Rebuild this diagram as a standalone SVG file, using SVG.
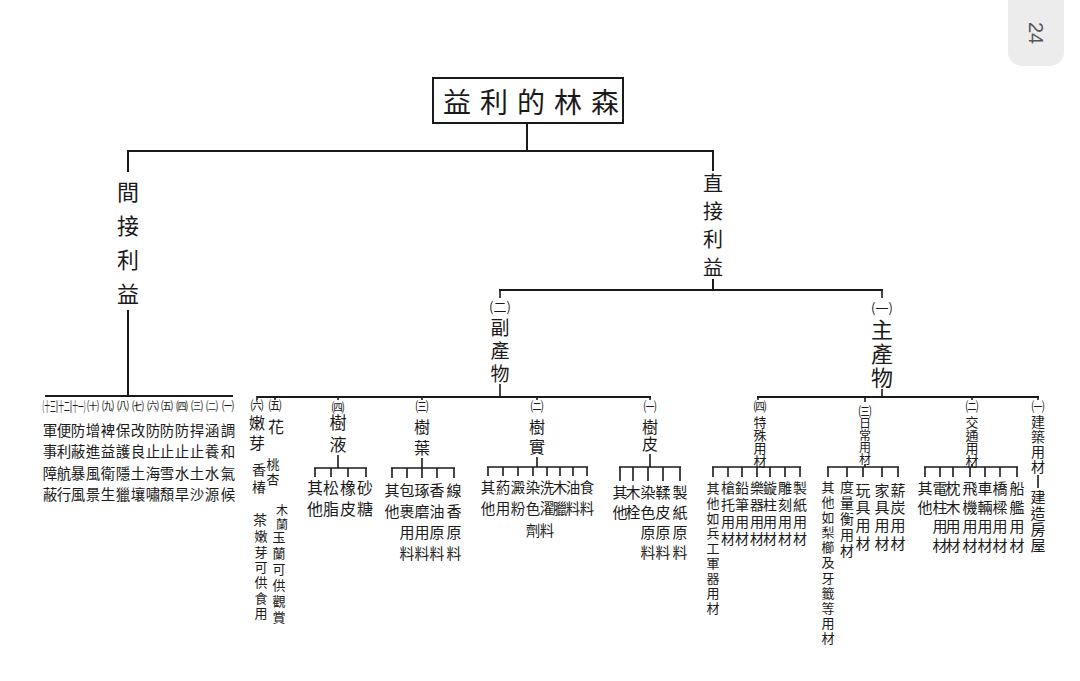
<svg xmlns="http://www.w3.org/2000/svg" width="1080" height="681" viewBox="0 0 1080 681">
<style>
.t{font-family:"Noto Sans CJK TC","Noto Sans CJK SC",sans-serif;fill:#1a1a1a}
.v{writing-mode:vertical-rl;text-orientation:upright}
.n{font-size:13px;text-anchor:middle;dominant-baseline:central}
.nl{font-size:12px}
.c line{stroke:#1a1a1a;stroke-width:1.6}
.c .m{stroke-width:2}
</style>
<rect width="1080" height="681" fill="#ffffff"/>
<g id="pagenum">
<rect x="1008" y="-14" width="56" height="80" rx="14" fill="#ececec"/>
<text x="1036" y="33" transform="rotate(90 1036 33)" font-family="Liberation Sans,sans-serif" font-size="20" fill="#555" text-anchor="middle" dominant-baseline="central">24</text>
</g>
<g id="connectors" class="c">
<line class="m" x1="527" y1="123" x2="527" y2="151"/>
<line class="m" x1="127" y1="151" x2="714" y2="151"/>
<line class="m" x1="128" y1="150" x2="128" y2="172"/>
<line class="m" x1="128" y1="310" x2="128" y2="397"/>
<line class="m" x1="713" y1="150" x2="713" y2="171"/>
<line class="m" x1="713" y1="279" x2="713" y2="291"/>
<line class="m" x1="499" y1="290" x2="883" y2="290"/>
<line x1="500" y1="289" x2="500" y2="298"/>
<line x1="500" y1="384" x2="500" y2="397"/>
<line x1="882" y1="289" x2="882" y2="298"/>
<line x1="882" y1="389" x2="882" y2="397"/>
<line class="m" x1="45" y1="396" x2="233" y2="396"/>
<line class="m" x1="257" y1="397" x2="651" y2="397"/>
<line class="m" x1="757" y1="397" x2="1039" y2="397"/>
<line x1="257" y1="396" x2="257" y2="400"/><line x1="275" y1="396" x2="275" y2="400"/><line x1="338" y1="396" x2="338" y2="400"/><line x1="422" y1="396" x2="422" y2="400"/><line x1="537" y1="396" x2="537" y2="400"/><line x1="650" y1="396" x2="650" y2="400"/>
<line x1="758" y1="396" x2="758" y2="400"/><line x1="865" y1="396" x2="865" y2="402"/><line x1="972" y1="396" x2="972" y2="400"/><line x1="1038" y1="396" x2="1038" y2="400"/>
<line x1="338" y1="455" x2="338" y2="468"/>
<line x1="314" y1="468" x2="367" y2="468"/>
<line x1="315" y1="468" x2="315" y2="477"/><line x1="331" y1="468" x2="331" y2="477"/><line x1="348" y1="468" x2="348" y2="477"/><line x1="366" y1="468" x2="366" y2="477"/>
<line x1="422" y1="458" x2="422" y2="468"/>
<line x1="391" y1="468" x2="455" y2="468"/>
<line x1="392" y1="468" x2="392" y2="478"/><line x1="407" y1="468" x2="407" y2="478"/><line x1="422" y1="468" x2="422" y2="478"/><line x1="437" y1="468" x2="437" y2="478"/><line x1="454" y1="468" x2="454" y2="478"/>
<line x1="537" y1="457" x2="537" y2="467"/>
<line x1="487" y1="467" x2="588" y2="467"/>
<line x1="488" y1="467" x2="488" y2="476"/><line x1="503" y1="467" x2="503" y2="476"/><line x1="518" y1="467" x2="518" y2="476"/><line x1="533" y1="467" x2="533" y2="476"/><line x1="547" y1="467" x2="547" y2="476"/><line x1="560" y1="467" x2="560" y2="476"/><line x1="573" y1="467" x2="573" y2="476"/><line x1="587" y1="467" x2="587" y2="476"/>
<line x1="650" y1="454" x2="650" y2="467"/>
<line x1="619" y1="467" x2="681" y2="467"/>
<line x1="620" y1="467" x2="620" y2="481"/><line x1="633" y1="467" x2="633" y2="481"/><line x1="648" y1="467" x2="648" y2="481"/><line x1="663" y1="467" x2="663" y2="481"/><line x1="680" y1="467" x2="680" y2="481"/>
<line x1="760" y1="466" x2="760" y2="467"/>
<line x1="712" y1="467" x2="801" y2="467"/>
<line x1="713" y1="467" x2="713" y2="477"/><line x1="728" y1="467" x2="728" y2="477"/><line x1="742" y1="467" x2="742" y2="477"/><line x1="757" y1="467" x2="757" y2="477"/><line x1="770" y1="467" x2="770" y2="477"/><line x1="785" y1="467" x2="785" y2="477"/><line x1="800" y1="467" x2="800" y2="477"/>
<line x1="865" y1="464" x2="865" y2="467"/>
<line x1="827" y1="467" x2="899" y2="467"/>
<line x1="828" y1="467" x2="828" y2="477"/><line x1="847" y1="467" x2="847" y2="477"/><line x1="863" y1="467" x2="863" y2="477"/><line x1="882" y1="467" x2="882" y2="477"/><line x1="898" y1="467" x2="898" y2="477"/>
<line x1="972" y1="464" x2="972" y2="467"/>
<line x1="924" y1="467" x2="1018" y2="467"/>
<line x1="925" y1="467" x2="925" y2="477"/><line x1="940" y1="467" x2="940" y2="477"/><line x1="953" y1="467" x2="953" y2="477"/><line x1="970" y1="467" x2="970" y2="477"/><line x1="985" y1="467" x2="985" y2="477"/><line x1="1000" y1="467" x2="1000" y2="477"/><line x1="1017" y1="467" x2="1017" y2="477"/>
<line x1="1038" y1="475" x2="1038" y2="488"/>
</g>
<g id="title">
<rect x="433" y="78" width="190" height="45" fill="none" stroke="#1a1a1a" stroke-width="2"/>
<text class="t" x="443" y="101" font-size="28" letter-spacing="9" dominant-baseline="central">益利的林森</text>
</g>
<g id="indirect">
<text class="t v" x="128" y="181" font-size="22" letter-spacing="12">間接利益</text>
</g>
<g id="direct">
<text class="t v" x="713" y="173" font-size="20" letter-spacing="8">直接利益</text>
</g>
<g id="indirect-items" class="t">
<text class="n nl" x="228" y="405">㈠</text><text class="n nl" x="212" y="405">㈡</text><text class="n nl" x="197" y="405">㈢</text><text class="n nl" x="182" y="405">㈣</text><text class="n nl" x="167" y="405">㈤</text><text class="n nl" x="153" y="405">㈥</text><text class="n nl" x="138" y="405">㈦</text><text class="n nl" x="123" y="405">㈧</text><text class="n nl" x="108" y="405">㈨</text><text class="n nl" x="93" y="405">㈩</text>
<text class="n" font-size="10" transform="translate(78 405) scale(0.44 1)">(十一)</text>
<text class="n" font-size="10" transform="translate(64 405) scale(0.44 1)">(十二)</text>
<text class="n" font-size="10" transform="translate(50 405) scale(0.44 1)">(十三)</text>
<g font-size="14.5" letter-spacing="7">
<text class="v" x="228" y="423">調和氣候</text>
<text class="v" x="212" y="423">涵養水源</text>
<text class="v" x="197" y="423">捍止土沙</text>
<text class="v" x="182" y="423">防止水旱</text>
<text class="v" x="167" y="423">防止雪頽</text>
<text class="v" x="153" y="423">防止海嘯</text>
<text class="v" x="138" y="423">改良土壤</text>
<text class="v" x="123" y="423">保護隱獵</text>
<text class="v" x="108" y="423">裨益衛生</text>
<text class="v" x="93" y="423">增進風景</text>
<text class="v" x="78" y="423">防蔽暴風</text>
<text class="v" x="64" y="423">便利航行</text>
<text class="v" x="50" y="423">軍事障蔽</text>
</g>
</g>
<g id="byproduct" class="t">
<text class="n" x="500" y="306">(二)</text>
<text class="v" x="500" y="318" font-size="19" letter-spacing="4">副產物</text>
</g>
<g id="mainproduct" class="t">
<text class="n" x="882" y="307">(一)</text>
<text class="v" x="882" y="319" font-size="22" letter-spacing="2">主產物</text>
</g>
<g id="sprout" class="t">
<text class="n" x="257" y="404">㈥</text>
<text class="v" x="257" y="415" font-size="16" letter-spacing="4">嫩芽</text>
<text class="v" x="259" y="463" font-size="14" letter-spacing="3">香椿</text>
<text class="v" x="260" y="513" font-size="14">茶</text>
<text class="v" x="261" y="530" font-size="13" letter-spacing="2.3">嫩芽可供食用</text>
</g>
<g id="flower" class="t">
<text class="n" x="275" y="404">㈤</text>
<text class="v" x="276" y="419" font-size="16">花</text>
<text class="v" x="273" y="458" font-size="13" letter-spacing="2">桃杏</text>
<text class="v" x="282" y="504" font-size="12" letter-spacing="2">木蘭</text>
<text class="v" x="279" y="531" font-size="13" letter-spacing="3">玉蘭可供觀賞</text>
</g>
<g id="sap" class="t">
<text class="n" x="338" y="406">㈣</text>
<text class="v" x="338" y="414" font-size="17" letter-spacing="5">樹液</text>
<g font-size="16" letter-spacing="5">
<text class="v" x="315" y="480">其他</text>
<text class="v" x="331" y="480">松脂</text>
<text class="v" x="348" y="480">橡皮</text>
<text class="v" x="365" y="480">砂糖</text>
</g>
</g>
<g id="leaf" class="t">
<text class="n" x="422" y="405">㈢</text>
<text class="v" x="422" y="419" font-size="16" letter-spacing="5">樹葉</text>
<g font-size="15" letter-spacing="6">
<text class="v" x="392" y="482.5">其他</text>
<text class="v" x="407" y="482.5">包裹用料</text>
<text class="v" x="422" y="482.5">琢磨用料</text>
<text class="v" x="437" y="482.5">香油原料</text>
<text class="v" x="454" y="482.5">線香原料</text>
</g>
</g>
<g id="fruit" class="t">
<text class="n" x="537" y="405">㈡</text>
<text class="v" x="537" y="419" font-size="16" letter-spacing="4">樹實</text>
<g font-size="14.5" letter-spacing="7">
<text class="v" x="488" y="480">其他</text>
<text class="v" x="503" y="480">葯用</text>
<text class="v" x="518" y="480">澱粉</text>
<text class="v" x="533" y="480">染色劑</text>
<text class="v" x="547" y="480">洗濯料</text>
<text class="v" x="560" y="480">木臘</text>
<text class="v" x="573" y="480">油料</text>
<text class="v" x="587" y="480">食料</text>
</g>
</g>
<g id="bark" class="t">
<text class="n" x="650" y="405">㈠</text>
<text class="v" x="650" y="419" font-size="16" letter-spacing="1">樹皮</text>
<g font-size="15" letter-spacing="5">
<text class="v" x="620" y="484.5">其他</text>
<text class="v" x="633" y="484.5">木栓</text>
<text class="v" x="648" y="484.5">染色原料</text>
<text class="v" x="663" y="484.5">鞣皮原料</text>
<text class="v" x="680" y="484.5">製紙原料</text>
</g>
</g>
<g id="special" class="t">
<text class="n" x="760" y="405">㈣</text>
<text class="v" x="760" y="415.5" font-size="13">特殊用材</text>
<text class="v" x="713" y="481.5" font-size="13" letter-spacing="2">其他如兵工軍器用材</text>
<g font-size="14" letter-spacing="3">
<text class="v" x="728" y="481">槍托用材</text>
<text class="v" x="742" y="481">鉛筆用材</text>
<text class="v" x="757" y="481">樂器用材</text>
<text class="v" x="770" y="481">鏇柱用材</text>
<text class="v" x="785" y="481">雕刻用材</text>
<text class="v" x="800" y="481">製紙用材</text>
</g>
</g>
<g id="daily" class="t">
<text class="n" x="865" y="410">㈢</text>
<text class="v" x="865" y="417" font-size="12">日常用材</text>
<text class="v" x="828" y="480.5" font-size="13" letter-spacing="2.1">其他如梨櫛及牙籤等用材</text>
<text class="v" x="847" y="480" font-size="14" letter-spacing="2">度量衡用材</text>
<g font-size="15" letter-spacing="2.7">
<text class="v" x="863" y="482.5">玩具用材</text>
<text class="v" x="882" y="482.5">家具用材</text>
<text class="v" x="898" y="482.5">薪炭用材</text>
</g>
</g>
<g id="traffic" class="t">
<text class="n" x="972" y="405">㈡</text>
<text class="v" x="972" y="415.5" font-size="13">交通用材</text>
<g font-size="15" letter-spacing="4">
<text class="v" x="925" y="480.5">其他</text>
<text class="v" x="940" y="480.5">電柱用材</text>
<text class="v" x="953" y="480.5">枕木用材</text>
<text class="v" x="970" y="480.5">飛機用材</text>
<text class="v" x="985" y="480.5">車輛用材</text>
<text class="v" x="1000" y="480.5">橋樑用材</text>
<text class="v" x="1017" y="480.5">船艦用材</text>
</g>
</g>
<g id="building" class="t">
<text class="n" x="1038" y="405">㈠</text>
<text class="v" x="1038" y="415" font-size="14" letter-spacing="1">建築用材</text>
<text class="v" x="1038" y="489.5" font-size="15" letter-spacing="1">建造房屋</text>
</g>
</svg>
